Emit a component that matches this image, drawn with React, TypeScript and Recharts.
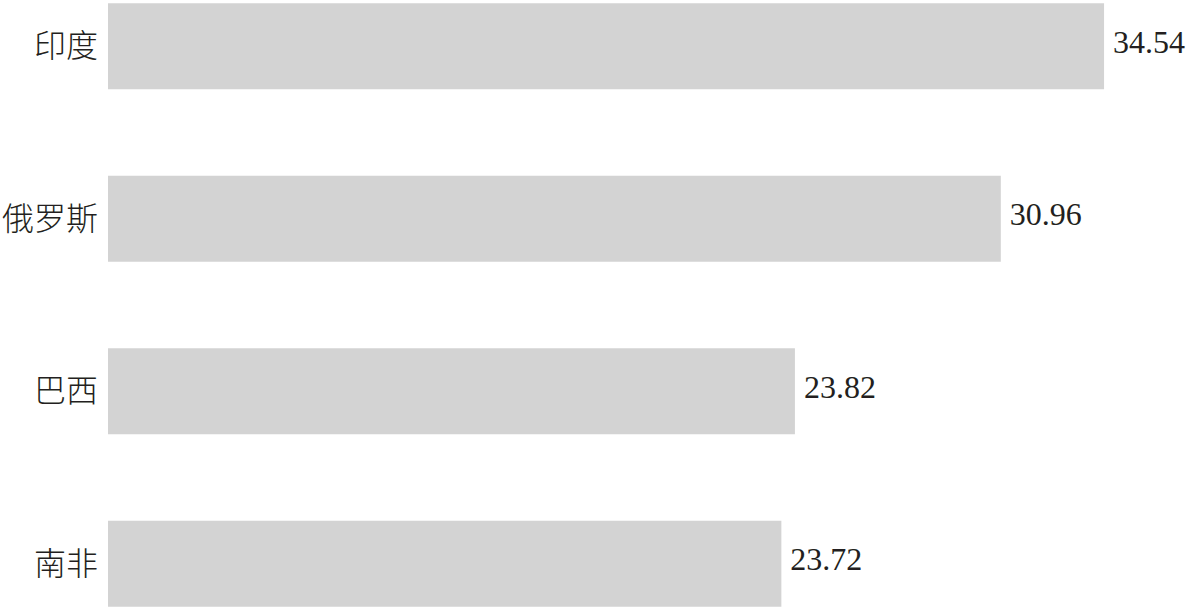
import React from "react";
import { BarChart, Bar, XAxis, YAxis, LabelList } from "recharts";

const categories = ["印度", "俄罗斯", "巴西", "南非"];
const barValues = [34.54, 30.96, 23.82, 23.35];
const valueLabels = ["34.54", "30.96", "23.82", "23.72"];

const data = categories.map((name, i) => ({
  name,
  value: barValues[i],
  label: valueLabels[i],
}));

const FONT = '"Liberation Serif", "Times New Roman", "Noto Sans CJK SC", serif';
const CJK_FONT = '"Noto Sans CJK SC", "Liberation Serif", serif';

const CategoryTick = (props: any) => {
  const { x, y, payload } = props;
  return (
    <text
      x={x}
      y={y}
      dy="0.35em"
      textAnchor="end"
      fontFamily={CJK_FONT}
      fontWeight={300}
      fontSize={32}
      fill="#231f20"
    >
      {payload.value}
    </text>
  );
};

const ValueLabel = (props: any) => {
  const { x, y, width, height, value } = props;
  return (
    <text
      x={x + width + 9}
      y={y + height / 2}
      dy="0.2em"
      textAnchor="start"
      fontFamily={FONT}
      fontSize={32}
      fill="#231f20"
    >
      {value}
    </text>
  );
};

export default function App() {
  return (
    <div
      style={{
        position: "absolute",
        left: 0,
        top: 0,
        width: 1187,
        height: 608,
        overflow: "hidden",
        background: "#ffffff",
      }}
    >
      <div style={{ position: "absolute", left: 0, top: -40 }}>
        <BarChart
          width={1187}
          height={690}
          data={data}
          layout="vertical"
          margin={{ top: 0, right: 12, bottom: 0, left: 0 }}
          barCategoryGap="25%"
        >
          <XAxis type="number" domain={[0, 37]} hide />
          <YAxis
            type="category"
            dataKey="name"
            width={108}
            axisLine={false}
            tickLine={false}
            tickSize={0}
            tickMargin={10}
            tick={<CategoryTick />}
            interval={0}
          />
          <Bar dataKey="value" fill="#d3d3d3" isAnimationActive={false}>
            <LabelList dataKey="label" content={<ValueLabel />} />
          </Bar>
        </BarChart>
      </div>
    </div>
  );
}
